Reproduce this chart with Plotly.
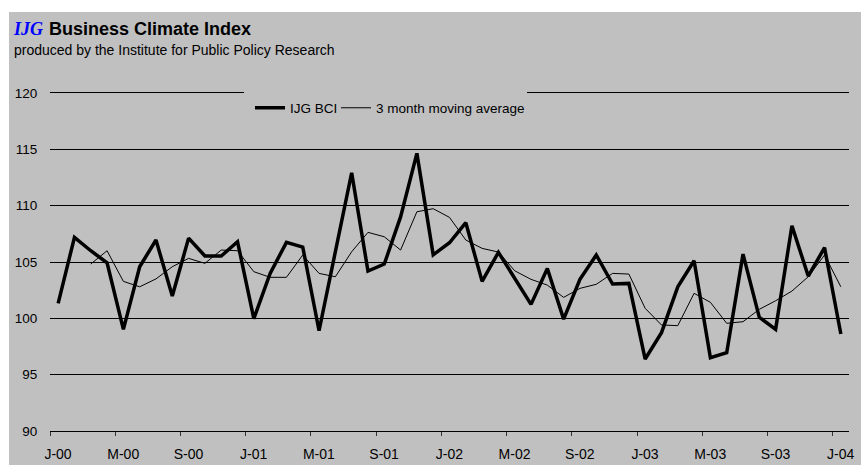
import plotly.graph_objects as go

# ---- data ----
month_index = list(range(49))  # Jan-2000 .. Jan-2004
tick_labels = ["J-00", "M-00", "S-00", "J-01", "M-01", "S-01", "J-02",
               "M-02", "S-02", "J-03", "M-03", "S-03", "J-04"]
bci = [101.33, 107.19, 106.0, 104.93, 99.02, 104.58, 106.95, 101.98, 107.12,
       105.53, 105.53, 106.8, 99.97, 103.99, 106.74, 106.33, 98.9, 105.9,
       112.92, 104.2, 104.82, 109.0, 114.64, 105.64, 106.71, 108.49, 103.28,
       105.86, 103.55, 101.24, 104.43, 99.93, 103.46, 105.62, 103.04, 103.1,
       96.39, 98.73, 102.8, 105.11, 96.5, 96.95, 105.7, 100.09, 99.02, 108.22,
       103.75, 106.27, 98.61]
moving_avg = [None, None, 104.82, 106.0, 103.28, 102.8, 103.5, 104.58, 105.32,
              104.88, 106.06, 106.0, 104.14, 103.64, 103.64, 105.62, 103.99,
              103.69, 105.91, 107.63, 107.24, 106.06, 109.46, 109.73, 108.96,
              106.95, 106.21, 105.88, 104.22, 103.46, 102.95, 101.86, 102.66,
              103.02, 103.99, 103.93, 100.89, 99.41, 99.35, 102.22, 101.42,
              99.56, 99.7, 100.8, 101.56, 102.42, 103.69, 105.62, 102.8]
y_ticks = [90, 95, 100, 105, 110, 115, 120]

GRAY = "#C0C0C0"
FONT = "Liberation Sans, Arial, sans-serif"

# layout geometry (pixels)
W, H = 861, 465
ML, MR, MT, MB = 50, 12, 93, 34
PW = W - ML - MR
PH = H - MT - MB

def px_x(p):
    return (p - ML) / PW

def px_y(p):
    return (H - MB - p) / PH

fig = go.Figure()
fig.add_trace(go.Scatter(x=month_index, y=bci, mode="lines", name="IJG BCI",
                         line=dict(color="black", width=3.5), legend="legend"))
fig.add_trace(go.Scatter(x=month_index, y=moving_avg, mode="lines",
                         name="3 month moving average",
                         line=dict(color="black", width=1), legend="legend2"))

tick_pos = [i - 0.5 for i in month_index[::4]]

legend_common = dict(orientation="h", xanchor="left", yanchor="middle",
                     y=px_y(108),
                     font=dict(family=FONT, size=13.5, color="black"))

fig.update_layout(
    width=W, height=H,
    margin=dict(l=ML, r=MR, t=MT, b=MB, pad=0, autoexpand=False),
    paper_bgcolor="white",
    plot_bgcolor="rgba(0,0,0,0)",
    font=dict(family=FONT, size=13.5, color="black"),
    showlegend=True,
    legend=dict(legend_common, x=px_x(244), borderwidth=6, bgcolor=GRAY,
                bordercolor=GRAY, entrywidth=226, entrywidthmode="pixels"),
    legend2=dict(legend_common, x=px_x(336), borderwidth=0,
                 bgcolor="rgba(0,0,0,0)"),
    xaxis=dict(range=[-0.5, 48.5], tickmode="array", tickvals=tick_pos,
               ticktext=tick_labels, ticks="outside", ticklen=4,
               tickcolor="#333333", tickwidth=1, ticklabelshift=8,
               ticklabelstandoff=6, automargin=False,
               showgrid=False, zeroline=False, showline=True, mirror=True,
               linecolor="black", linewidth=1,
               tickfont=dict(family=FONT, size=14)),
    yaxis=dict(range=[90, 120], tickmode="array", tickvals=y_ticks,
               showgrid=True, gridcolor="black", gridwidth=1,
               zeroline=False, showline=False, ticks="outside", ticklen=9,
               tickcolor="rgba(0,0,0,0)", automargin=False,
               tickfont=dict(family=FONT, size=13.5)),
    shapes=[dict(type="rect", xref="paper", yref="paper", layer="below",
                 x0=px_x(9), x1=px_x(W + 5), y0=px_y(H + 5), y1=px_y(12),
                 fillcolor=GRAY, line=dict(width=0))],
    annotations=[
        dict(text="IJG", xref="paper", yref="paper", x=px_x(11), y=px_y(28.5),
             xanchor="left", yanchor="middle", showarrow=False,
             font=dict(family="Liberation Serif, Times New Roman, serif",
                       size=18, color="#0000FF", weight="bold", style="italic")),
        dict(text="<b>Business Climate Index</b>", xref="paper", yref="paper",
             x=px_x(47), y=px_y(28.5), xanchor="left", yanchor="middle",
             showarrow=False, font=dict(family=FONT, size=18, color="black")),
        dict(text="produced by the Institute for Public Policy Research",
             xref="paper", yref="paper", x=px_x(12), y=px_y(49.5),
             xanchor="left", yanchor="middle", showarrow=False,
             font=dict(family=FONT, size=14, color="black")),
    ],
)

fig.write_html("out.html")
